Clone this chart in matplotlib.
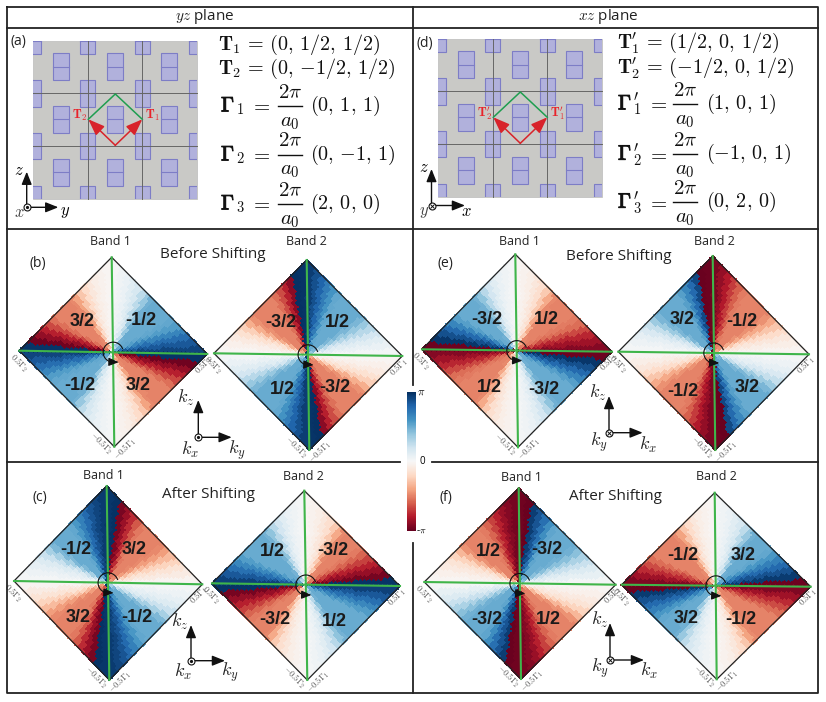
import matplotlib
matplotlib.use('Agg')
import matplotlib.patheffects as pe
import matplotlib.pyplot as plt
import numpy as np
from matplotlib.cm import ScalarMappable
from matplotlib.colors import Normalize
from matplotlib.patches import Polygon, Rectangle

plt.rcParams['font.family'] = ['Open Sans', 'DejaVu Sans']
plt.rcParams['mathtext.fontset'] = 'cm'

# Berry phase (in units of pi) per 5 degree sector, clockwise from the top corner, repeats every half turn
phase_b1 = [0.02, 0.04, 0.07, 0.11, 0.17, 0.26, 0.38, 0.48, 0.50, 0.50, 0.50, 0.50,
            0.52, 0.56, 0.66, 0.76, 0.85, 0.92, 0.98, -0.97, -0.88, -0.78, -0.66, -0.55,
            -0.50, -0.50, -0.50, -0.50, -0.48, -0.40, -0.28, -0.18, -0.11, -0.07, -0.04, -0.02]
phase_b2 = [0.95, 0.88, 0.80, 0.70, 0.60, 0.52, 0.50, 0.50, 0.50, 0.50, 0.50, 0.46,
            0.38, 0.28, 0.18, 0.11, 0.07, 0.03, -0.02, -0.05, -0.09, -0.15, -0.24, -0.36,
            -0.46, -0.50, -0.50, -0.50, -0.50, -0.50, -0.55, -0.65, -0.78, -0.90, 0.99, 0.98]
phase_c1 = [0.97, 0.99, -0.95, -0.86, -0.75, -0.62, -0.53, -0.50, -0.50, -0.50, -0.50, -0.48,
            -0.42, -0.32, -0.22, -0.14, -0.08, -0.03, 0.02, 0.05, 0.09, 0.14, 0.22, 0.33,
            0.45, 0.50, 0.50, 0.50, 0.50, 0.52, 0.58, 0.68, 0.78, 0.86, 0.92, 0.96]
phase_c2 = [-0.02, -0.04, -0.07, -0.11, -0.17, -0.26, -0.38, -0.48, -0.50, -0.50, -0.50, -0.52,
            -0.58, -0.68, -0.78, -0.87, -0.96, 0.98, 0.93, 0.85, 0.75, 0.65, 0.56, 0.50,
            0.50, 0.50, 0.50, 0.50, 0.47, 0.40, 0.28, 0.18, 0.11, 0.07, 0.04, 0.02]
phase_e1 = [-v for v in phase_b1]
phase_e2 = [-v for v in phase_b2]
phase_f1 = [-v for v in phase_c1]
phase_f2 = [-v for v in phase_c2]

# Each diamond: phase list, then pixel corners top, right, bottom, left, band title position and charge labels
diamonds = [
    (phase_b1, [(111.7, 257.3), (207.3, 354), (114.3, 446.7), (19.3, 350.7)], 'Band 1', (110, 241.7),
     [('3/2', 82, 321.7), ('-1/2', 140.7, 320.7), ('-1/2', 80, 385), ('3/2', 138, 385.7)]),
    (phase_b2, [(306.7, 260), (402.3, 356), (309.3, 450), (214, 353.3)], 'Band 2', (306.7, 241.7),
     [('-3/2', 280.7, 322.7), ('1/2', 337, 322.7), ('1/2', 282, 390), ('-3/2', 335, 387)]),
    (phase_c1, [(106.7, 486), (202.3, 584.3), (109.3, 680), (14, 581)], 'Band 1', (103, 475.7),
     [('-1/2', 76, 549), ('3/2', 134, 549), ('3/2', 77.7, 617.7), ('-1/2', 137, 617.7)]),
    (phase_c2, [(304.3, 490.7), (400, 586), (307.3, 680), (212, 583.3)], 'Band 2', (303, 477),
     [('1/2', 272.7, 551), ('-3/2', 333, 550.7), ('-3/2', 275, 620), ('1/2', 334, 621)]),
    (phase_e1, [(515.3, 254.3), (612, 351.7), (518, 447.3), (422, 349.3)], 'Band 1', (519, 241.7),
     [('-3/2', 486.7, 320), ('1/2', 546.7, 320), ('1/2', 489, 388), ('-3/2', 544, 390)]),
    (phase_e2, [(712.7, 256), (809, 354.3), (715.3, 450), (618.3, 351.7)], 'Band 2', (714, 241.7),
     [('3/2', 682.3, 320), ('-1/2', 742.3, 321.7), ('-1/2', 683.3, 391), ('3/2', 747.3, 387.7)]),
    (phase_f1, [(518.7, 488.3), (615.7, 584.7), (521, 679), (424.3, 582)], 'Band 1', (521, 477.3),
     [('1/2', 488, 551), ('-3/2', 546.7, 549.3), ('-3/2', 487.3, 619.3), ('1/2', 548.7, 619)]),
    (phase_f2, [(714.7, 492.7), (810.7, 586.7), (716.7, 679.3), (621.7, 584.7)], 'Band 2', (716, 477),
     [('-1/2', 683.3, 555.7), ('3/2', 743.3, 555.7), ('3/2', 686, 618.3), ('-1/2', 740.7, 619.3)]),
]

panel_labels = [('(a)', 18, 41), ('(b)', 37.7, 263), ('(c)', 40, 498),
                ('(d)', 425, 43), ('(e)', 445, 263), ('(f)', 445.7, 497.7)]
shift_titles = [('Before Shifting', 213, 255), ('After Shifting', 209, 495),
                ('Before Shifting', 619, 256.7), ('After Shifting', 615.7, 496.7)]

# Lattice vectors next to the lattice panels
t_vectors = [(r'$\mathbf{T}_1\,=\,(0,\,1/2,\,1/2)$', 218, 45),
             (r'$\mathbf{T}_2\,=\,(0,\,{-}1/2,\,1/2)$', 218, 68.5),
             (r"$\mathbf{T}_1^{\prime}\,=\,(1/2,\,0,\,1/2)$", 616.7, 43.3),
             (r"$\mathbf{T}_2^{\prime}\,=\,({-}1/2,\,0,\,1/2)$", 616.7, 67.7)]
# gamma subscript, vector text, fraction bar height and x positions
gamma_vectors = [('$_1$', '$(0,\\,1,\\,1)$', 106, 221, 250, 278, 310),
                 ('$_2$', '$(0,\\,{-}1,\\,1)$', 155, 221, 250, 278, 310),
                 ('$_3$', '$(2,\\,0,\\,0)$', 204, 221, 250, 278, 310),
                 ('$_1^{\\prime}$', '$(1,\\,0,\\,1)$', 104, 618, 647, 673, 706),
                 ('$_2^{\\prime}$', '$({-}1,\\,0,\\,1)$', 154.3, 618, 647, 673, 706),
                 ('$_3^{\\prime}$', '$(0,\\,2,\\,0)$', 202.3, 618, 647, 673, 706)]

# Unit cells of panel (a), panel (d) is the same drawing moved over
lattice_box = (33.3, 40.7, 196.7, 199.3)
lattice_x = [87.7, 142.3]
lattice_y = [93.3, 146]
cell_x = [61, 115, 169]
cell_y = [66.7, 119.3, 172.3]
edge_x = [33.3, 87.7, 142.3, 196.7]
edge_y = [40.7, 93.3, 146, 199.3]
cell_w = 15.3
cell_h = 26.7

fig = plt.figure(figsize=(8.26, 7.02), dpi=100)
ax = fig.add_axes([0, 0, 1, 1])
ax.set_axis_off()


def plot_diamond(phase, corners, n=42):
    top, right, bottom, left = [np.array(c) for c in corners]
    center = (top + right + bottom + left) / 4
    grid = np.linspace(-1, 1, n + 1)
    a, b = np.meshgrid(grid, grid)
    u = (a + b) / 2
    v = (b - a) / 2
    X = center[0] + u * (right[0] - left[0]) / 2 + v * (top[0] - bottom[0]) / 2
    Y = center[1] + u * (right[1] - left[1]) / 2 + v * (top[1] - bottom[1]) / 2
    # look up the sector of every cell
    uc = (u[:-1, :-1] + u[1:, 1:]) / 2
    vc = (v[:-1, :-1] + v[1:, 1:]) / 2
    theta = np.degrees(np.arctan2(uc, vc)) % 180
    idx = np.minimum((theta // 5).astype(int), len(phase) - 1)
    Z = np.array(phase)[idx]
    ax.pcolormesh(X, Y, Z, cmap='RdBu', vmin=-1, vmax=1, shading='flat',
                  edgecolors='face', linewidth=0.25)
    ax.add_patch(Polygon([top, right, bottom, left], closed=True, fill=False, ec='#222222', lw=0.9, zorder=3))
    ax.plot([top[0], bottom[0]], [top[1], bottom[1]], color='#3fb54a', lw=1.5, zorder=4)
    ax.plot([left[0], right[0]], [left[1], right[1]], color='#3fb54a', lw=1.5, zorder=4)

    # corner labels
    ax.text(left[0] - 1, left[1] + 12, r'$0.5\Gamma_2$', fontsize=6, color='#555555', rotation=-45, ha='center', va='center')
    ax.text(right[0] - 3, right[1] + 11, r'$0.5\Gamma_1$', fontsize=6, color='#555555', rotation=45, ha='center', va='center')
    ax.text(bottom[0] - 13, bottom[1] - 3, r'$-0.5\Gamma_2$', fontsize=6, color='#555555', rotation=-45, ha='center', va='center')
    ax.text(bottom[0] + 11, bottom[1] + 2, r'$-0.5\Gamma_1$', fontsize=6, color='#555555', rotation=45, ha='center', va='center')

    # winding arrow round the center
    t = np.radians(np.linspace(20, 265, 60))
    cx, cy = center[0], center[1]
    ax.plot(cx + 10 * np.cos(t), cy - 10 * np.sin(t), color='#111111', lw=0.8, zorder=5)
    ax.annotate('', xy=(cx + 5.5, cy + 10), xytext=(cx - 1, cy + 9.8),
                arrowprops=dict(arrowstyle='-|>,head_length=0.6,head_width=0.25', color='#111111', lw=0.8,
                                mutation_scale=10, shrinkA=0, shrinkB=0), zorder=6)


def axis_pair(origin, up, side, out_into=False, lw=1.0, ms=5):
    arrow = dict(arrowstyle='-|>,head_length=0.7,head_width=0.28', color='#111111', lw=lw,
                 mutation_scale=11, shrinkA=0, shrinkB=0)
    ax.annotate('', xy=(origin[0], up), xytext=origin, arrowprops=arrow, zorder=6)
    ax.annotate('', xy=(side, origin[1]), xytext=origin, arrowprops=arrow, zorder=6)
    ax.plot(*origin, 'o', ms=ms, mfc='white', mec='#111111', mew=0.8, zorder=7)
    if out_into:
        ax.plot(*origin, 'x', ms=ms * 0.6, color='#111111', mew=0.7, zorder=8)
    else:
        ax.plot(*origin, 'o', ms=1.3, color='#111111', zorder=8)


def plot_lattice(dx, dy, t1, t2, colour_t='#e8232a'):
    x0, y0, x1, y1 = lattice_box
    box = Rectangle((x0 + dx, y0 + dy), x1 - x0, y1 - y0, fc='#c9c9c6', ec='#bbbbbb', lw=0.5, zorder=1)
    ax.add_patch(box)
    rects = [(x, y) for x in cell_x for y in cell_y] + [(x, y) for x in edge_x for y in edge_y]
    for x, y in rects:
        r = Rectangle((x - cell_w / 2 + dx, y - cell_h / 2 + dy), cell_w, cell_h,
                      fc='#b1b1dc', ec='#7d7dc6', lw=0.8, zorder=2)
        ax.add_patch(r)
        r.set_clip_path(box)
        line, = ax.plot([x - cell_w / 2 + dx, x + cell_w / 2 + dx], [y + dy, y + dy], color='#7d7dc6', lw=0.8, zorder=2)
        line.set_clip_path(box)
    for x in lattice_x:
        ax.plot([x + dx, x + dx], [y0 + dy, y1 + dy], color='#666666', lw=0.7, zorder=3)
    for y in lattice_y:
        ax.plot([x0 + dx, x1 + dx], [y + dy, y + dy], color='#666666', lw=0.7, zorder=3)

    mid = (115.3 + dx, 145.3 + dy)
    right = (142.3 + dx, 119.3 + dy)
    left = (88.3 + dx, 119.3 + dy)
    peak = (115.3 + dx, 94 + dy)
    ax.plot([left[0], peak[0], right[0]], [left[1], peak[1], right[1]], color='#1f9e50', lw=1.1, zorder=4)
    arrow = dict(arrowstyle='-|>,head_length=1.0,head_width=0.38', color='#d8232a', lw=1.1,
                 mutation_scale=10, shrinkA=0, shrinkB=0)
    ax.annotate('', xy=right, xytext=mid, arrowprops=arrow, zorder=5)
    ax.annotate('', xy=left, xytext=mid, arrowprops=arrow, zorder=5)
    ax.text(152 + dx, 115.5 + dy, t1, color=colour_t, fontsize=9, ha='center', va='center', zorder=6)
    ax.text(79.5 + dx, 115.5 + dy, t2, color=colour_t, fontsize=9, ha='center', va='center', zorder=6)


for phase, corners, band, pos, charges in diamonds:
    plot_diamond(phase, corners)
    ax.text(pos[0], pos[1], band, fontsize=9, color='#222222', ha='center', va='center')
    for label, x, y in charges:
        ax.text(x, y, label, fontsize=13, fontweight='bold', color='#1a1a1a',
                family='Liberation Sans', ha='center', va='center', zorder=5)

plot_lattice(0, 0, r'$\mathbf{T}_1$', r'$\mathbf{T}_2$')
plot_lattice(405, -2, r'$\mathbf{T}_1^{\prime}$', r'$\mathbf{T}_2^{\prime}$')

# frame, broken round the colorbar
frame_kw = dict(color='#222222', lw=1.3, zorder=9)
ax.plot([7, 818, 818, 7, 7], [6.5, 6.5, 693, 693, 6.5], **frame_kw)
ax.plot([7, 818], [28, 28], **frame_kw)
ax.plot([7, 818], [229, 229], **frame_kw)
ax.plot([7, 400], [461.5, 461.5], **frame_kw)
ax.plot([432, 818], [461.5, 461.5], **frame_kw)
ax.plot([413, 413], [6.5, 385], **frame_kw)
ax.plot([413, 413], [543, 693], **frame_kw)

ax.text(205, 16.5, r'$yz$ plane', fontsize=11, color='#222222', ha='center', va='center')
ax.text(608, 16.5, r'$xz$ plane', fontsize=11, color='#222222', ha='center', va='center')

for label, x, y in panel_labels:
    ax.text(x, y, label, fontsize=10, color='#222222', ha='center', va='center')
for label, x, y in shift_titles:
    ax.text(x, y, label, fontsize=11, color='#222222', ha='center', va='center')
for label, x, y in t_vectors:
    ax.text(x, y, label, fontsize=14.5, color='#111111', ha='left', va='center')

bold = [pe.withStroke(linewidth=0.7, foreground='#111111')]
for sub, vec, y, x_g, x_eq, x_f, x_v in gamma_vectors:
    ax.text(x_g, y + 5.5, r'$\Gamma$', fontsize=15, color='#111111', ha='left', va='baseline', path_effects=bold)
    ax.text(x_g + 15, y + 5.5, sub, fontsize=15, color='#111111', ha='left', va='baseline')
    ax.text(x_eq, y, '$=$', fontsize=15, color='#111111', ha='left', va='center')
    ax.plot([x_f, x_f + 24], [y, y], color='#111111', lw=1.0)
    ax.text(x_f + 12, y - 14, r'$2\pi$', fontsize=15, color='#111111', ha='center', va='center')
    ax.text(x_f + 12, y + 15, '$a_0$', fontsize=15, color='#111111', ha='center', va='center')
    ax.text(x_v, y, vec, fontsize=14.5, color='#111111', ha='left', va='center')

# direction axes
axis_pair((26.7, 207.3), 171.7, 58.3)
ax.text(19, 171, '$z$', fontsize=12, ha='center', va='center')
ax.text(19, 213, '$x$', fontsize=12, ha='center', va='center', color='#444444')
ax.text(65, 212, '$y$', fontsize=12, ha='center', va='center')
axis_pair((431.5, 205.5), 169, 465, out_into=True)
ax.text(424, 168, '$z$', fontsize=12, ha='center', va='center')
ax.text(424, 212, '$y$', fontsize=12, ha='center', va='center', color='#444444')
ax.text(466, 212, '$x$', fontsize=12, ha='center', va='center')

k_axes = [((198.3, 437.3), 400, 231.7, False, ('$k_z$', 186, 398), ('$k_x$', 190, 450), ('$k_y$', 237, 450)),
          ((191, 660.7), 625, 225, False, ('$k_z$', 180, 622), ('$k_x$', 183, 672), ('$k_y$', 230, 672)),
          ((609, 432.7), 396, 642.7, True, ('$k_z$', 598, 393), ('$k_y$', 599, 442), ('$k_x$', 648, 445)),
          ((610, 660), 623, 644, True, ('$k_z$', 600, 620), ('$k_y$', 600, 668), ('$k_x$', 649, 671))]
for origin, up, side, into, *labels in k_axes:
    axis_pair(origin, up, side, out_into=into)
    for label, x, y in labels:
        ax.text(x, y, label, fontsize=13, color='#222222', ha='center', va='center')

ax.set_xlim(0, 826)
ax.set_ylim(702, 0)

# colorbar
cax = fig.add_axes([407.3 / 826, 1 - 530.7 / 702, 8.7 / 826, 138.7 / 702])
cbar = fig.colorbar(ScalarMappable(norm=Normalize(-np.pi, np.pi), cmap='RdBu'), cax=cax)
cbar.outline.set_visible(False)
cbar.set_ticks([])
ax.text(421, 392, r'$\pi$', fontsize=8, ha='center', va='center')
ax.text(422, 461, '0', fontsize=7, ha='center', va='center')
ax.text(421, 530, r'-$\pi$', fontsize=7, ha='center', va='center')

fig.savefig('out.png', dpi=100)
